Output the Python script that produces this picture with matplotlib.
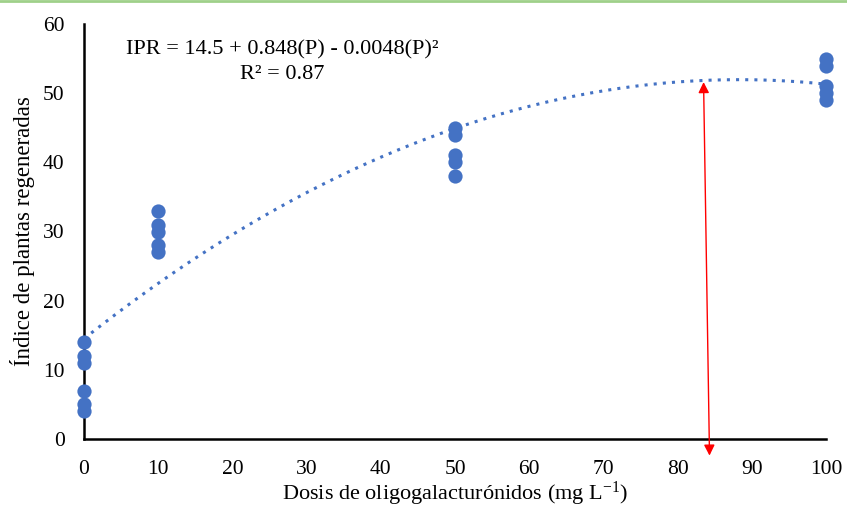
import numpy as np
import matplotlib
matplotlib.use("Agg")
import matplotlib.pyplot as plt
from matplotlib.lines import Line2D

# datos
dosis_0 = [0, 0, 0, 0, 0, 0]
ipr_0 = [14, 12, 11, 7, 5, 4]
dosis_10 = [10, 10, 10, 10, 10]
ipr_10 = [33, 31, 30, 28, 27]
dosis_50 = [50, 50, 50, 50, 50]
ipr_50 = [45, 44, 41, 40, 38]
dosis_100 = [100, 100, 100, 100, 100]
ipr_100 = [55, 54, 51, 50, 49]

# coeficientes de la ecuacion mostrada
coef = [14.5, 0.848, -0.0048]
x_ticks = [0, 10, 20, 30, 40, 50, 60, 70, 80, 90, 100]
y_ticks = [0, 10, 20, 30, 40, 50, 60]
flecha_x = [83.5, 84.3]
flecha_y = [51.6, -2.4]

plt.rcParams['font.family'] = ['Liberation Serif', 'DejaVu Serif']
plt.rcParams['mathtext.fontset'] = 'custom'
plt.rcParams['mathtext.rm'] = 'Liberation Serif'
plt.rcParams['mathtext.default'] = 'regular'
azul = '#4472C4'

fig = plt.figure(figsize=(8.47, 5.08), dpi=100)
ax = fig.add_axes([84/847, 1-439/508, (826-84)/847, (439-24)/508])

x = np.concatenate([dosis_0, dosis_10, dosis_50, dosis_100])
y = np.concatenate([ipr_0, ipr_10, ipr_50, ipr_100])
ax.scatter(x, y, s=105, color=azul, zorder=3, clip_on=False, linewidths=0)

xx = np.linspace(0, 100, 200)
yy = coef[0] + coef[1]*xx + coef[2]*xx**2
ax.plot(xx, yy, color=azul, lw=2.2, linestyle=(0, (1, 2)), zorder=2)

ax.annotate('', xy=(flecha_x[0], flecha_y[0]), xytext=(flecha_x[1], flecha_y[1]),
            arrowprops=dict(arrowstyle='<|-|>', color='red', lw=1, mutation_scale=16,
                            shrinkA=0, shrinkB=0),
            annotation_clip=False, zorder=4)

ax.text(0.267, 0.96, 'IPR = 14.5 + 0.848(P) - 0.0048(P)²\nR² = 0.87',
        transform=ax.transAxes, ha='center', va='top', fontsize=16,
        linespacing=1.4)

ax.set_xlim(0, 100)
ax.set_ylim(0, 60)
ax.set_xticks(x_ticks)
ax.set_yticks(y_ticks)
ax.tick_params(length=0, labelsize=15.5)
ax.tick_params(axis='x', pad=15)
ax.tick_params(axis='y', pad=14)
for s in ['top', 'right']:
    ax.spines[s].set_visible(False)
for s in ['left', 'bottom']:
    ax.spines[s].set_linewidth(1.8)

ax.set_xlabel('Dosis de oligogalacturónidos (mg L$^{-1}$)', fontsize=16, labelpad=1)
ax.set_ylabel('Índice de plantas regeneradas', fontsize=16.5, labelpad=6)

fig.add_artist(Line2D([0, 1], [0.998, 0.998], transform=fig.transFigure,
                      color='#9fd08a', lw=2))

fig.savefig('out.png', dpi=100)
